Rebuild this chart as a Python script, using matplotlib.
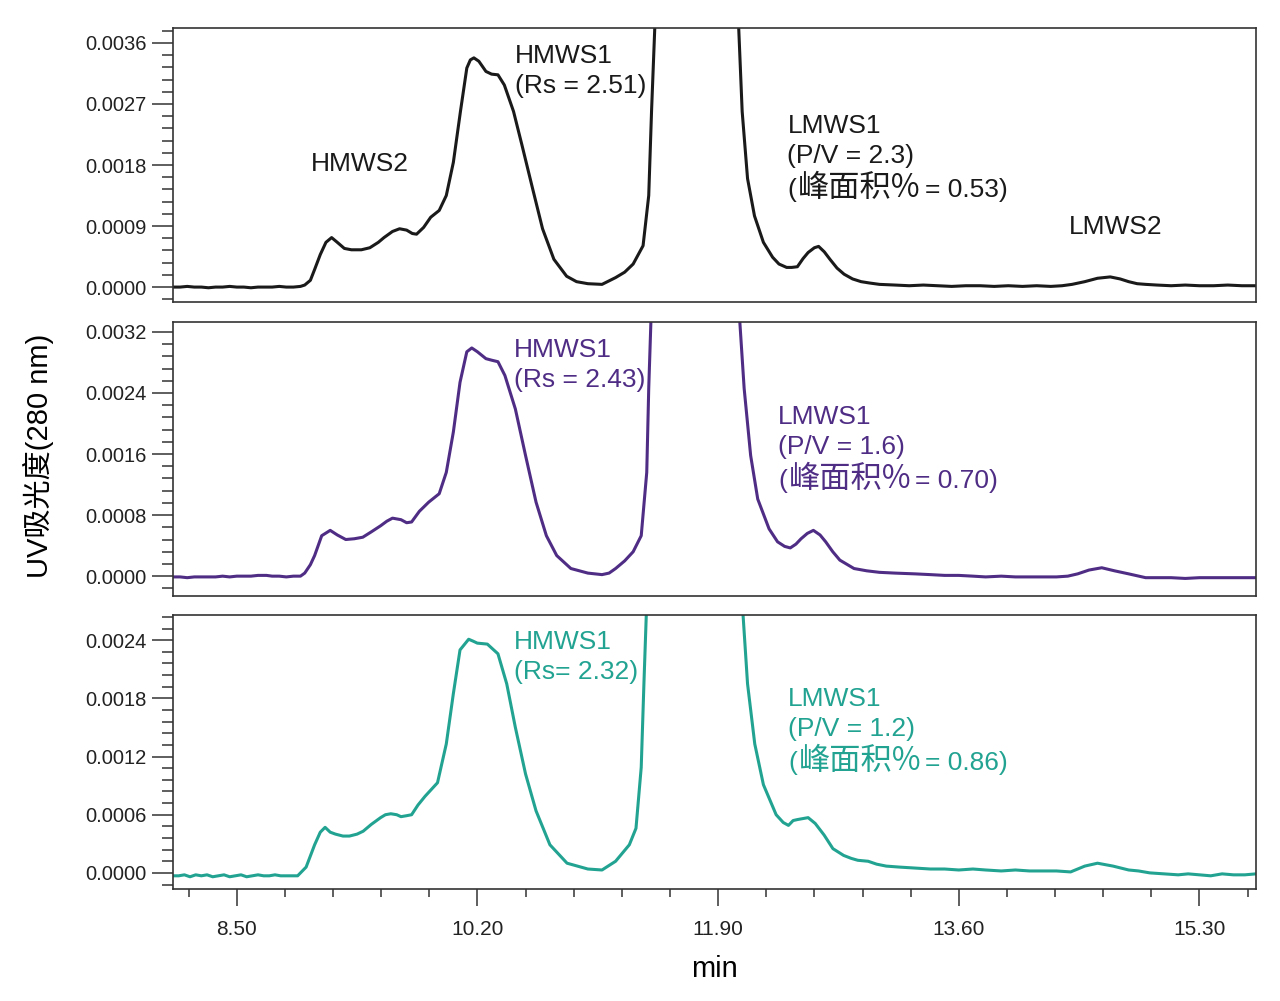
import matplotlib
matplotlib.use("Agg")
import matplotlib.pyplot as plt
from matplotlib.ticker import MultipleLocator, FormatStrFormatter

plt.rcParams['font.family'] = ['Liberation Sans', 'Noto Sans CJK SC']

# ---- data (x in min, y in AU) ----
x_top = [8.05, 8.10, 8.15, 8.20, 8.25, 8.30, 8.35, 8.40, 8.45, 8.50, 8.55, 8.60, 8.65, 8.70,
         8.75, 8.80, 8.85, 8.90, 8.95, 8.98, 9.02, 9.05, 9.09, 9.13, 9.17, 9.21, 9.26, 9.31,
         9.38, 9.44, 9.50, 9.54, 9.60, 9.65, 9.70, 9.74, 9.77, 9.82, 9.87, 9.93, 9.98, 10.03,
         10.08, 10.125, 10.15, 10.175, 10.21, 10.26, 10.30, 10.345, 10.39, 10.455, 10.515, 10.59,
         10.66, 10.74, 10.83, 10.90, 10.98, 11.08, 11.176, 11.24, 11.30, 11.37, 11.41, 11.43,
         11.456, 11.60, 11.75, 11.90, 12.00, 12.044, 12.07, 12.108, 12.157, 12.22, 12.285,
         12.33, 12.384, 12.42, 12.46, 12.50, 12.536, 12.58, 12.61, 12.65, 12.69, 12.74, 12.79,
         12.85, 12.91, 12.97, 13.04, 13.15, 13.25, 13.35, 13.45, 13.55, 13.65, 13.75, 13.85,
         13.95, 14.05, 14.15, 14.25, 14.33, 14.40, 14.49, 14.58, 14.67, 14.74, 14.80, 14.86,
         14.92, 15.00, 15.10, 15.20, 15.30, 15.40, 15.50, 15.60, 15.70]
y_top = [0.00000, 0.00000, 0.00001, 0.00000, 0.00000, -0.00001, 0.00000, 0.00000, 0.00001,
         0.00000, 0.00000, -0.00001, 0.00000, 0.00000, 0.00000, 0.00001, 0.00000, 0.00000,
         0.00001, 0.00003, 0.00010, 0.00026, 0.00048, 0.00066, 0.00073, 0.00066, 0.00057,
         0.00055, 0.00055, 0.00058, 0.00066, 0.00073, 0.00082, 0.00086, 0.00084, 0.00079,
         0.00078, 0.00088, 0.00103, 0.00113, 0.00135, 0.00184, 0.00259, 0.00323, 0.00335,
         0.00338, 0.00333, 0.00318, 0.00314, 0.00313, 0.00298, 0.00259, 0.00209, 0.00145,
         0.00086, 0.00041, 0.00016, 0.00008, 0.00005, 0.00004, 0.00014, 0.00022, 0.00034,
         0.00061, 0.00135, 0.00260, 0.00400, 0.02000, 0.05000, 0.05000, 0.01000, 0.00390,
         0.00259, 0.00160, 0.00105, 0.00066, 0.00044, 0.00034, 0.00029, 0.00029, 0.00030,
         0.00042, 0.00051, 0.00058, 0.00060, 0.00052, 0.00041, 0.00028, 0.00019, 0.00012,
         0.00008, 0.00006, 0.00004, 0.00003, 0.00002, 0.00003, 0.00002, 0.00001, 0.00002,
         0.00002, 0.00001, 0.00002, 0.00001, 0.00002, 0.00001, 0.00002, 0.00004, 0.00008,
         0.00013, 0.00015, 0.00012, 0.00008, 0.00005, 0.00004, 0.00003, 0.00002, 0.00003,
         0.00002, 0.00002, 0.00003, 0.00002, 0.00002]

x_mid = [8.05, 8.10, 8.15, 8.20, 8.25, 8.30, 8.35, 8.40, 8.45, 8.50, 8.55, 8.60, 8.65, 8.71,
         8.75, 8.80, 8.85, 8.90, 8.95, 8.98, 9.02, 9.05, 9.10, 9.16, 9.21, 9.27, 9.33, 9.39,
         9.45, 9.516, 9.56, 9.60, 9.66, 9.70, 9.735, 9.79, 9.856, 9.93, 9.98, 10.03, 10.077,
         10.125, 10.16, 10.20, 10.26, 10.30, 10.345, 10.394, 10.468, 10.54, 10.614, 10.687,
         10.76, 10.86, 10.98, 11.03, 11.08, 11.13, 11.176, 11.24, 11.30, 11.357, 11.396, 11.41,
         11.43, 11.60, 11.75, 11.90, 12.00, 12.044, 12.084, 12.13, 12.18, 12.26, 12.32, 12.37,
         12.41, 12.45, 12.486, 12.53, 12.573, 12.62, 12.66, 12.71, 12.76, 12.86, 12.95, 13.04,
         13.15, 13.29, 13.40, 13.50, 13.60, 13.70, 13.79, 13.90, 14.00, 14.10, 14.20, 14.29,
         14.37, 14.44, 14.52, 14.61, 14.70, 14.80, 14.92, 15.00, 15.10, 15.20, 15.30, 15.40,
         15.50, 15.60, 15.70]
y_mid = [-0.00001, -0.00001, -0.00002, -0.00001, -0.00001, -0.00001, -0.00001, 0.00000,
         -0.00001, 0.00000, 0.00000, 0.00000, 0.00001, 0.00001, 0.00000, 0.00000, -0.00001,
         0.00000, 0.00000, 0.00004, 0.00015, 0.00027, 0.00053, 0.00060, 0.00054, 0.00048,
         0.00049, 0.00051, 0.00058, 0.00066, 0.00072, 0.00076, 0.00074, 0.00070, 0.00071,
         0.00085, 0.00097, 0.00108, 0.00136, 0.00189, 0.00254, 0.00294, 0.00299, 0.00294,
         0.00285, 0.00283, 0.00281, 0.00263, 0.00219, 0.00158, 0.00097, 0.00053, 0.00027,
         0.00010, 0.00004, 0.00003, 0.00002, 0.00004, 0.00010, 0.00020, 0.00032, 0.00053,
         0.00136, 0.00246, 0.00360, 0.02000, 0.05000, 0.05000, 0.01000, 0.00360, 0.00246,
         0.00158, 0.00101, 0.00062, 0.00045, 0.00039, 0.00037, 0.00042, 0.00049, 0.00056,
         0.00060, 0.00054, 0.00045, 0.00032, 0.00021, 0.00010, 0.00007, 0.00005, 0.00004,
         0.00003, 0.00002, 0.00001, 0.00001, 0.00000, -0.00001, 0.00000, -0.00001, -0.00001,
         -0.00001, -0.00001, 0.00000, 0.00003, 0.00008, 0.00011, 0.00007, 0.00003, -0.00002,
         -0.00002, -0.00002, -0.00003, -0.00002, -0.00002, -0.00002, -0.00002, -0.00002]

x_bot = [8.05, 8.09, 8.13, 8.17, 8.21, 8.25, 8.29, 8.33, 8.37, 8.41, 8.45, 8.49, 8.53, 8.57,
         8.61, 8.65, 8.69, 8.73, 8.77, 8.81, 8.85, 8.89, 8.93, 8.99, 9.05, 9.09, 9.124, 9.16,
         9.197, 9.25, 9.296, 9.35, 9.393, 9.45, 9.516, 9.55, 9.588, 9.63, 9.66, 9.70, 9.735,
         9.78, 9.83, 9.918, 9.98, 10.03, 10.077, 10.138, 10.17, 10.199, 10.27, 10.345, 10.407,
         10.468, 10.54, 10.614, 10.712, 10.833, 10.98, 11.08, 11.176, 11.273, 11.32, 11.357,
         11.376, 11.396, 11.60, 11.75, 11.90, 12.00, 12.07, 12.108, 12.159, 12.22, 12.31,
         12.36, 12.397, 12.43, 12.46, 12.536, 12.586, 12.649, 12.711, 12.787, 12.84, 12.887,
         12.96, 13.02, 13.088, 13.18, 13.29, 13.40, 13.50, 13.60, 13.70, 13.79, 13.90, 14.00,
         14.10, 14.20, 14.29, 14.39, 14.49, 14.58, 14.69, 14.80, 14.87, 14.95, 15.05, 15.15,
         15.22, 15.30, 15.38, 15.46, 15.54, 15.62, 15.70]
y_bot = [-0.00003, -0.00003, -0.00002, -0.00004, -0.00002, -0.00003, -0.00002, -0.00004,
         -0.00003, -0.00002, -0.00004, -0.00003, -0.00002, -0.00004, -0.00003, -0.00002,
         -0.00003, -0.00003, -0.00002, -0.00003, -0.00003, -0.00003, -0.00003, 0.00006,
         0.00029, 0.00042, 0.00047, 0.00042, 0.00040, 0.00038, 0.00038, 0.00040, 0.00043,
         0.00050, 0.00057, 0.00060, 0.00061, 0.00060, 0.00058, 0.00059, 0.00060, 0.00070,
         0.00079, 0.00093, 0.00133, 0.00185, 0.00230, 0.00241, 0.00239, 0.00237, 0.00236,
         0.00226, 0.00195, 0.00150, 0.00102, 0.00064, 0.00029, 0.00010, 0.00004, 0.00003,
         0.00012, 0.00029, 0.00046, 0.00109, 0.00195, 0.00280, 0.02000, 0.05000, 0.05000,
         0.01000, 0.00280, 0.00195, 0.00133, 0.00091, 0.00060, 0.00052, 0.00049, 0.00054,
         0.00055, 0.00057, 0.00051, 0.00039, 0.00025, 0.00018, 0.00015, 0.00013, 0.00012,
         0.00009, 0.00007, 0.00006, 0.00005, 0.00004, 0.00004, 0.00003, 0.00004, 0.00003,
         0.00002, 0.00003, 0.00002, 0.00002, 0.00002, 0.00001, 0.00007, 0.00010, 0.00007,
         0.00003, 0.00002, 0.00000, -0.00001, -0.00002, -0.00001, -0.00002, -0.00003,
         -0.00001, -0.00002, -0.00002, -0.00001]

colors = ['#1a1a1a', '#4f2d85', '#22a392']
ylims = [(-0.00022, 0.00382), (-0.00026, 0.00333), (-0.000166, 0.00266)]
ymajor = [0.0009, 0.0008, 0.0006]
yminor = [0.00018, 0.00016, 0.00012]

# annotation texts: (lines, area value or None, x, y of cap top)
labels_top = [(["HMWS2"], None, 9.02, 0.00200),
              (["HMWS1", "(Rs = 2.51)"], None, 10.465, 0.00359),
              (["LMWS1", "(P/V = 2.3)"], "0.53", 12.39, 0.00256),
              (["LMWS2"], None, 14.38, 0.00107)]
labels_mid = [(["HMWS1", "(Rs = 2.43)"], None, 10.455, 0.00312),
              (["LMWS1", "(P/V = 1.6)"], "0.70", 12.325, 0.00225)]
labels_bot = [(["HMWS1", "(Rs= 2.32)"], None, 10.455, 0.00251),
              (["LMWS1", "(P/V = 1.2)"], "0.86", 12.395, 0.00192)]

FS = 19          # label font size (pt)
CAP = 14.0       # cap height offset to first baseline (pt)
PITCH = 21.5     # baseline pitch (pt)
PITCH3 = 24.5    # pitch before the larger area line (pt)


def add_label(ax, lines, area, tx, ty, color):
    off = -CAP
    for k, line in enumerate(lines):
        if k > 0:
            off -= PITCH
        ax.annotate(line, xy=(tx, ty), xycoords='data', xytext=(0, off),
                    textcoords='offset points', va='baseline', ha='left',
                    color=color, fontsize=FS)
    if area is None:
        return
    off -= PITCH3
    p1 = ax.annotate("(", xy=(tx, ty), xycoords='data', xytext=(0, off),
                     textcoords='offset points', va='baseline', ha='left',
                     color=color, fontsize=FS)
    p2 = ax.annotate("峰面积%", xy=(1, ty), xycoords=(p1, 'data'), xytext=(1, off),
                     textcoords='offset points', va='baseline', ha='left',
                     color=color, fontsize=22.5, fontweight='medium',
                     family=['Noto Sans CJK SC', 'Liberation Sans'])
    ax.annotate("= " + area + ")", xy=(1, ty), xycoords=(p2, 'data'), xytext=(3, off),
                textcoords='offset points', va='baseline', ha='left',
                color=color, fontsize=FS)


fig = plt.figure(figsize=(12.8, 10.01), dpi=100)
left, width, height = 0.1352, 0.8461, 0.2737
bottoms = [0.6983, 0.4046, 0.1119]

series = [(x_top, y_top), (x_mid, y_mid), (x_bot, y_bot)]
all_labels = [labels_top, labels_mid, labels_bot]

axes = []
for i in range(3):
    ax = fig.add_axes([left, bottoms[i], width, height])
    xs, ys = series[i]
    ax.plot(xs, ys, color=colors[i], lw=2.2, solid_joinstyle='round')
    ax.set_xlim(8.05, 15.70)
    ax.set_ylim(*ylims[i])
    ax.yaxis.set_major_locator(MultipleLocator(ymajor[i]))
    ax.yaxis.set_minor_locator(MultipleLocator(yminor[i]))
    ax.yaxis.set_major_formatter(FormatStrFormatter('%.4f'))
    ax.tick_params(axis='y', which='major', length=15, width=1.1, labelsize=14.5,
                   colors='#333333', labelcolor='#222222', pad=4)
    ax.tick_params(axis='y', which='minor', length=8, width=1.1, colors='#333333')
    for s in ax.spines.values():
        s.set_color('#333333')
        s.set_linewidth(1.2)
    for lines, area, tx, ty in all_labels[i]:
        add_label(ax, lines, area, tx, ty, colors[i])
    if i < 2:
        ax.tick_params(axis='x', which='both', bottom=False, labelbottom=False)
    axes.append(ax)

axb = axes[2]
axb.xaxis.set_major_locator(MultipleLocator(1.70))
axb.xaxis.set_minor_locator(MultipleLocator(0.34))
axb.xaxis.set_major_formatter(FormatStrFormatter('%.2f'))
axb.tick_params(axis='x', which='major', length=12, width=1.1, labelsize=15,
                colors='#333333', labelcolor='#222222', pad=10)
axb.tick_params(axis='x', which='minor', length=6, width=1.1, colors='#333333')
axb.set_xlabel('min', fontsize=21, labelpad=12)

fig.text(0.030, 0.545, 'UV吸光度(280 nm)', rotation=90, fontsize=21,
         ha='center', va='center')

fig.savefig('out.png', dpi=100)
